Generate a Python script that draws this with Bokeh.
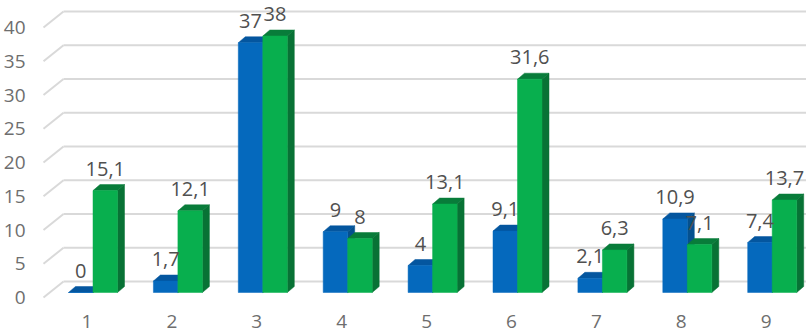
from bokeh.plotting import figure
from bokeh.models import Range1d, LinearAxis, FixedTicker
from bokeh.core.properties import value
from bokeh.embed import file_html
from bokeh.resources import INLINE

categories = [1, 2, 3, 4, 5, 6, 7, 8, 9]
blue_values = [0, 1.7, 37, 9, 4, 9.1, 2.1, 10.9, 7.4]
green_values = [15.1, 12.1, 38, 8, 13.1, 31.6, 6.3, 7.1, 13.7]
blue_labels = ["0", "1,7", "37", "9", "4", "9,1", "2,1", "10,9", "7,4"]
green_labels = ["15,1", "12,1", "38", "8", "13,1", "31,6", "6,3", "7,1", "13,7"]
y_ticks = [0, 5, 10, 15, 20, 25, 30, 35, 40]

W, H = 806, 335
LEFT, FRAME_BOTTOM = 36, 308
ZERO_PX, PX_PER_UNIT = 292, 6.75
CAT1_PX, PX_PER_CAT = 92.5, 84.9
BAR_PX = 24.5
FONT = value("Open Sans")

x_start = 1 + (LEFT - CAT1_PX) / PX_PER_CAT
x_end = 1 + (W - CAT1_PX) / PX_PER_CAT
y_start = (ZERO_PX - FRAME_BOTTOM) / PX_PER_UNIT
y_end = ZERO_PX / PX_PER_UNIT

p = figure(width=W, height=H, output_backend="svg", toolbar_location=None,
           x_range=Range1d(x_start, x_end), y_range=Range1d(y_start, y_end),
           x_axis_location=None, y_axis_location=None,
           min_border_left=LEFT, min_border_right=0, min_border_top=0,
           min_border_bottom=H - FRAME_BOTTOM)
p.outline_line_color = None
p.background_fill_color = "white"
p.border_fill_color = "white"
p.grid.visible = False

AX_DY = 5 / PX_PER_UNIT
AX_DX = 6 / PX_PER_CAT
p.extra_y_ranges = {"ax": Range1d(y_start + AX_DY, y_end + AX_DY)}
p.extra_x_ranges = {"ax": Range1d(x_start + AX_DX, x_end + AX_DX)}
yax = LinearAxis(y_range_name="ax", ticker=FixedTicker(ticks=y_ticks))
yax.major_label_standoff = 11
p.add_layout(yax, "left")
xax = LinearAxis(x_range_name="ax", ticker=FixedTicker(ticks=categories))
xax.major_label_standoff = 6
p.add_layout(xax, "below")
for ax in (yax, xax):
    ax.axis_line_color = None
    ax.major_tick_line_color = None
    ax.minor_tick_line_color = None
    ax.major_tick_out = 0
    ax.major_tick_in = 0
    ax.major_label_text_font = "Open Sans"
    ax.major_label_text_font_size = "19px"
    ax.major_label_text_color = "#6e6e6e"

# walls: back gridlines and floor diagonals
WALL_DY = 11 / PX_PER_UNIT
GRID_X0 = 1 + (63 - CAT1_PX) / PX_PER_CAT
GRID_X1 = 1 + (43 - CAT1_PX) / PX_PER_CAT
DIAG_DY = 16 / PX_PER_UNIT
p.segment(x0=[GRID_X0] * len(y_ticks), x1=[x_end] * len(y_ticks),
          y0=[t + WALL_DY for t in y_ticks], y1=[t + WALL_DY for t in y_ticks],
          line_color="#d9d9d9", line_width=2)
p.segment(x0=[GRID_X0] * len(y_ticks), x1=[GRID_X1] * len(y_ticks),
          y0=[t + WALL_DY for t in y_ticks], y1=[t + WALL_DY - DIAG_DY for t in y_ticks],
          line_color="#d9d9d9", line_width=2)

BW = BAR_PX / PX_PER_CAT
DX = 7 / PX_PER_CAT
DY = 6 / PX_PER_UNIT


def bar3d(xs, vals, front, top, side):
    l = [x - BW / 2 for x in xs]
    r = [x + BW / 2 for x in xs]
    p.patches([[a, b, b + DX, a + DX] for a, b in zip(l, r)],
              [[v, v, v + DY, v + DY] for v in vals],
              fill_color=top, line_color=top, line_width=0.5)
    p.patches([[b, b + DX, b + DX, b] for b in r],
              [[0, DY, v + DY, v] for v in vals],
              fill_color=side, line_color=side, line_width=0.5)
    p.vbar(x=xs, width=BW, bottom=0, top=vals, fill_color=front, line_color=front, line_width=0.5)


blue_x = [c - BW / 2 for c in categories]
green_x = [c + BW / 2 for c in categories]
bar3d(blue_x, blue_values, "#0569bd", "#04569f", "#04508f")
bar3d(green_x, green_values, "#08af4e", "#087c3a", "#087235")

LBL = 22
for xs, vals, labs in ((blue_x, blue_values, blue_labels), (green_x, green_values, green_labels)):
    p.text(x=xs, y=vals, text=labs, y_offset=-LBL, text_align="center", text_baseline="middle",
           text_font=FONT, text_font_size="20px", text_color="#505050")

open("out.html", "w").write(file_html(p, INLINE))
